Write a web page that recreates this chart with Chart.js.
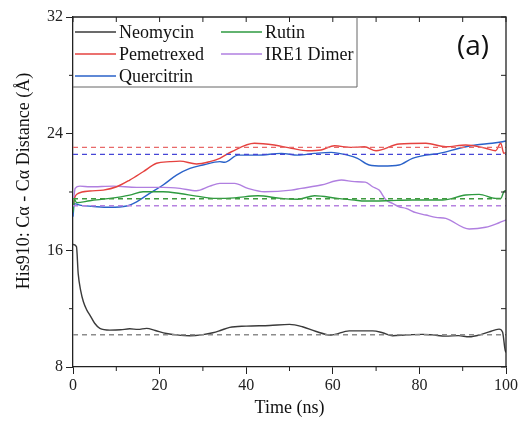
<!DOCTYPE html>
<html lang="en">
<head>
  <meta charset="UTF-8">
  <title>His910 Ca - Ca Distance</title>
  <script src="https://cdn.jsdelivr.net/npm/chart.js"></script>
  <style>
    html, body { margin: 0; padding: 0; background: #fff; }
    canvas { display: block; }
  </style>
</head>
<body>
  <canvas id="distChart" width="520" height="423"></canvas>

  <script>
    // time (ns) / distance (Å) samples
    const neoT = [0, 0.8, 1.2, 1.8, 2.4, 3.2, 3.9, 5, 6.2, 8.5, 11, 13.1, 15, 17, 19, 21.6, 24, 27, 30, 32.3, 34, 36.2, 40, 45.4, 50, 53, 56, 59.6, 63.8, 69.2, 71.5, 73.8, 77, 80.7, 83, 86.1, 89, 91.5, 94, 96.1, 98.4, 99.2, 99.8, 100];
    const neoV = [16.4, 16.25, 14.4, 13.2, 12.47, 11.9, 11.56, 11.0, 10.65, 10.53, 10.55, 10.62, 10.58, 10.65, 10.5, 10.3, 10.2, 10.14, 10.22, 10.35, 10.5, 10.72, 10.8, 10.85, 10.92, 10.76, 10.45, 10.19, 10.48, 10.48, 10.35, 10.14, 10.2, 10.24, 10.2, 10.12, 10.15, 10.07, 10.2, 10.41, 10.6, 10.4, 9.16, 9.0];

    const rutT = [0, 0.3, 0.85, 3.9, 8.5, 13.1, 16.2, 20.8, 24.7, 28.5, 33.1, 37.3, 42.7, 48.1, 51.9, 55.8, 61.1, 65, 67.3, 72.3, 78.4, 85.3, 90.7, 93.8, 97.6, 98.8, 99.5, 100];
    const rutV = [18.6, 19.5, 19.26, 19.4, 19.56, 19.79, 20.02, 20.02, 19.9, 19.72, 19.56, 19.6, 19.74, 19.56, 19.5, 19.74, 19.56, 19.45, 19.38, 19.4, 19.45, 19.45, 19.79, 19.84, 19.56, 19.56, 20.02, 20.1];

    const pemT = [0, 0.3, 1.2, 3.9, 7, 10.1, 13.1, 16.2, 19.3, 22.4, 24.7, 28.5, 31.6, 33.9, 36.6, 41.9, 46.5, 50.4, 54.2, 57.3, 60.4, 64.2, 67.3, 70, 75.3, 81.5, 86.1, 90.7, 95.3, 97.6, 98.8, 99.5, 100];
    const pemV = [18.8, 19.5, 19.9, 20.07, 20.13, 20.36, 20.82, 21.39, 21.97, 22.08, 22.12, 21.92, 22.08, 22.31, 22.76, 23.34, 23.22, 23.0, 22.83, 22.88, 23.17, 23.06, 23.1, 22.83, 23.29, 23.34, 23.1, 23.22, 23.0, 22.83, 23.34, 22.65, 22.7];

    const queT = [0, 0.3, 1.6, 5.5, 8.5, 12.4, 14.7, 17.7, 20.8, 23.9, 27, 30, 33.9, 35, 38.1, 42.7, 48.1, 51.9, 55.8, 59.6, 63.4, 65.7, 68.4, 71.5, 75.3, 78.4, 81.5, 84.6, 89.2, 93, 96.8, 99.2, 100];
    const queV = [18.3, 19.2, 19.1, 18.99, 18.95, 19.04, 19.33, 19.9, 20.48, 21.16, 21.62, 21.85, 22.08, 22.04, 22.53, 22.53, 22.65, 22.53, 22.65, 22.72, 22.53, 22.31, 21.85, 21.78, 21.85, 22.31, 22.53, 22.65, 23.0, 23.22, 23.34, 23.45, 23.5];

    const ireT = [0, 0.5, 1.6, 3.9, 9.3, 14.7, 20.8, 24.7, 28.5, 31.6, 33.9, 37.3, 40.4, 44.2, 50.4, 52.7, 57.3, 62, 65, 67.5, 69.2, 70.7, 72.3, 73.8, 75.3, 76.9, 79.2, 81.5, 83.8, 86.1, 91.5, 95.3, 98.4, 100];
    const ireV = [19.0, 20.25, 20.4, 20.36, 20.4, 20.32, 20.32, 20.25, 20.09, 20.4, 20.59, 20.59, 20.25, 20.02, 20.13, 20.25, 20.48, 20.82, 20.71, 20.68, 20.36, 20.13, 19.45, 19.22, 18.99, 18.88, 18.58, 18.42, 18.26, 18.19, 17.46, 17.58, 17.89, 18.08];

    // mean distance of each run (dashed lines)
    const meanNames = ['Neomycin', 'Pemetrexed', 'Quercitrin', 'Rutin', 'IRE1 Dimer'];
    const meanValues = [10.21, 23.06, 22.58, 19.54, 19.06];

    const xTicks = [0, 20, 40, 60, 80, 100];
    const yTicks = [8, 16, 24, 32];

    const serif = '"Liberation Serif", "Times New Roman", serif';

    const series = [
      { label: 'Neomycin',   t: neoT, v: neoV, color: '#3a3a3a', dash: '#8c8c8c' },
      { label: 'Rutin',      t: rutT, v: rutV, color: '#2e9a40', dash: '#3f9a3f' },
      { label: 'Pemetrexed', t: pemT, v: pemV, color: '#e5423f', dash: '#e86a6a' },
      { label: 'IRE1 Dimer', t: ireT, v: ireV, color: '#b07fe0', dash: '#b682e0' },
      { label: 'Quercitrin', t: queT, v: queV, color: '#2a62c9', dash: '#4646d6' }
    ];

    const datasets = [];
    series.forEach(s => {
      const m = meanValues[meanNames.indexOf(s.label)];
      datasets.push({
        label: s.label + ' mean',
        data: [{ x: 0, y: m }, { x: 100, y: m }],
        borderColor: s.dash,
        borderWidth: 1.4,
        borderDash: [5, 4],
        pointRadius: 0
      });
    });
    series.forEach(s => {
      datasets.push({
        label: s.label,
        data: s.t.map((t, i) => ({ x: t, y: s.v[i] })),
        borderColor: s.color,
        borderWidth: 1.4,
        pointRadius: 0,
        cubicInterpolationMode: 'monotone'
      });
    });

    // frame, minor ticks, legend box, titles
    const decor = {
      id: 'decor',
      afterDraw(chart) {
        const { ctx, chartArea: a, scales: { x, y } } = chart;
        ctx.save();
        ctx.strokeStyle = '#222';
        ctx.lineWidth = 1.3;
        ctx.beginPath();
        ctx.moveTo(a.left, a.top); ctx.lineTo(a.right, a.top); ctx.lineTo(a.right, a.bottom);
        ctx.stroke();

        ctx.lineWidth = 1;
        ctx.beginPath();
        for (let t = 0; t <= 100; t += 10) {
          const px = x.getPixelForValue(t);
          ctx.moveTo(px, a.top); ctx.lineTo(px, a.top + 5);
          if (t % 20) { ctx.moveTo(px, a.bottom); ctx.lineTo(px, a.bottom + 4); }
        }
        for (let v = 8; v <= 32; v += 4) {
          const py = y.getPixelForValue(v);
          ctx.moveTo(a.right, py); ctx.lineTo(a.right - 5, py);
          if (v % 8) { ctx.moveTo(a.left, py); ctx.lineTo(a.left - 4, py); }
        }
        ctx.stroke();

        // legend
        ctx.strokeStyle = '#666';
        ctx.beginPath();
        ctx.moveTo(357, a.top); ctx.lineTo(357, 87); ctx.lineTo(a.left, 87);
        ctx.stroke();
        const entries = [
          ['Neomycin', 75, 32], ['Pemetrexed', 75, 54], ['Quercitrin', 75, 76],
          ['Rutin', 221, 32], ['IRE1 Dimer', 221, 54]
        ];
        ctx.font = '18px ' + serif;
        ctx.textBaseline = 'middle';
        ctx.textAlign = 'left';
        entries.forEach(([name, lx, ly]) => {
          const s = series.find(d => d.label === name);
          ctx.strokeStyle = s.color;
          ctx.lineWidth = 1.5;
          ctx.beginPath();
          ctx.moveTo(lx, ly); ctx.lineTo(lx + 41, ly);
          ctx.stroke();
          ctx.fillStyle = '#111';
          ctx.fillText(name, lx + 44, ly + 1);
        });

        // panel tag
        ctx.font = '28px "Open Sans", sans-serif';
        ctx.textAlign = 'center';
        ctx.fillText('(a)', 473, 47);

        // axis titles
        ctx.font = '18px ' + serif;
        ctx.fillText('Time (ns)', (a.left + a.right) / 2, 408);
        ctx.translate(24, 181);
        ctx.rotate(-Math.PI / 2);
        ctx.fillText('His910: C\u03b1 - C\u03b1 Distance (\u00c5)', 0, 0);
        ctx.restore();
      }
    };

    new Chart(document.getElementById('distChart'), {
      type: 'line',
      data: { datasets: datasets },
      options: {
        responsive: false,
        animation: false,
        layout: { padding: { left: 0, right: 13, top: 17, bottom: 0 } },
        plugins: { legend: { display: false }, tooltip: { enabled: false } },
        scales: {
          x: {
            type: 'linear',
            min: 0,
            max: 100,
            afterBuildTicks: s => { s.ticks = xTicks.map(v => ({ value: v })); },
            afterFit: s => { s.height = 56; },
            ticks: { color: '#222', padding: 2, font: { family: serif, size: 16 } },
            grid: { drawOnChartArea: false, tickLength: 7, color: '#222', lineWidth: 1 },
            border: { color: '#222', width: 1.3 }
          },
          y: {
            min: 8,
            max: 32,
            afterBuildTicks: s => { s.ticks = yTicks.map(v => ({ value: v })); },
            afterFit: s => { s.width = 73; },
            ticks: { color: '#222', padding: 3, font: { family: serif, size: 16 } },
            grid: { drawOnChartArea: false, tickLength: 7, color: '#222', lineWidth: 1 },
            border: { color: '#222', width: 1.3 }
          }
        }
      },
      plugins: [decor]
    });
  </script>
</body>
</html>
